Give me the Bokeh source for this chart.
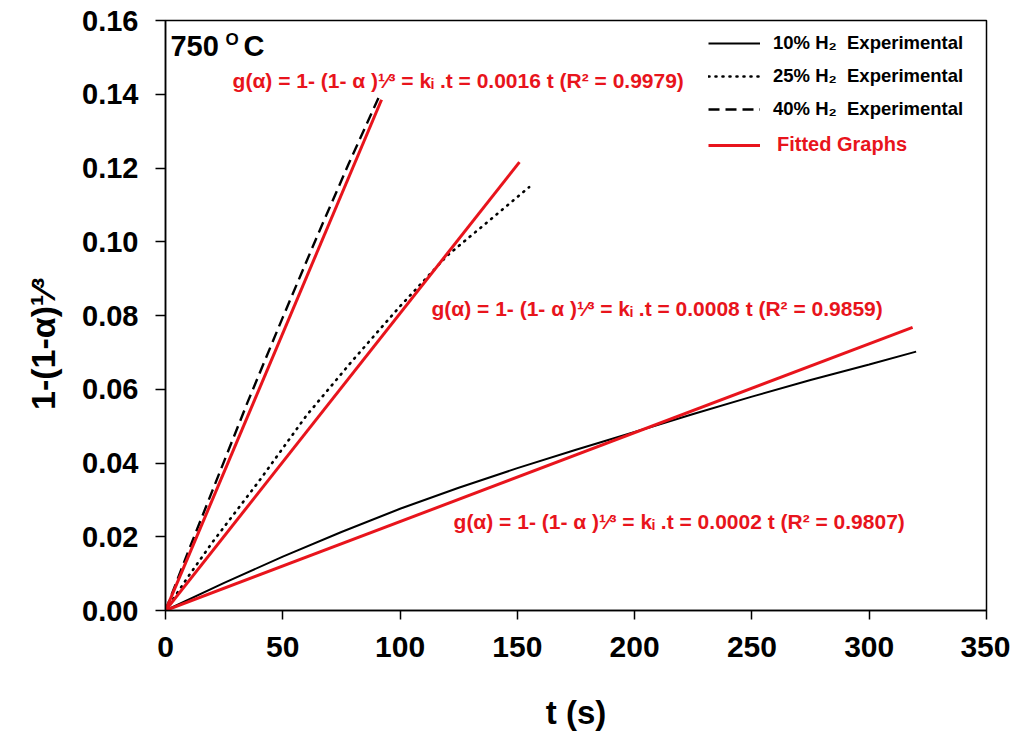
from bokeh.plotting import figure
from bokeh.models import Legend, LegendItem, Label, FixedTicker, NumeralTickFormatter
from bokeh.embed import file_html
from bokeh.resources import INLINE

# ---- data ----
t_10 = [0, 25, 50, 75, 100, 125, 150, 175, 200, 225, 250, 275, 300, 320]
y_10 = [0, 0.0075, 0.0146, 0.0213, 0.0276, 0.0333, 0.0386, 0.0436, 0.0484, 0.0533, 0.0580, 0.0625, 0.0667, 0.0702]

t_25 = [0, 10, 20, 40, 60, 80, 100, 120, 140, 155]
y_25 = [0, 0.0095, 0.0185, 0.0352, 0.0528, 0.0680, 0.0825, 0.0962, 0.1068, 0.1148]

t_40 = [0, 10, 20, 35, 50, 65, 78, 90.8]
y_40 = [0, 0.0165, 0.0325, 0.0565, 0.0795, 0.1020, 0.1210, 0.1390]

t_fit10 = [0, 318.5]
y_fit10 = [0, 0.0768]
t_fit25 = [0, 150.9]
y_fit25 = [0, 0.1216]
t_fit40 = [0, 92.1]
y_fit40 = [0, 0.1385]

x_ticks = [0, 50, 100, 150, 200, 250, 300, 350]
y_ticks = [0, 0.02, 0.04, 0.06, 0.08, 0.10, 0.12, 0.14, 0.16]

eq_texts = [
    "g(α) = 1- (1- α )¹⁄³ = kᵢ .t  = 0.0016 t (R² = 0.9979)",
    "g(α) = 1- (1- α )¹⁄³ = kᵢ .t  = 0.0008 t (R² = 0.9859)",
    "g(α) = 1- (1- α )¹⁄³ = kᵢ .t  = 0.0002 t (R² = 0.9807)",
]
eq_pos = [(28.6, 0.1437), (113.4, 0.0819), (122.8, 0.0241)]

legend_labels = ["10% H₂  Experimental", "25% H₂  Experimental", "40% H₂  Experimental"]
fit_label = "Fitted Graphs"

RED = "#e8141c"
FONT = "Liberation Sans"

p = figure(width=1010, height=734, x_range=(0, 350), y_range=(0, 0.16),
           output_backend="svg", toolbar_location=None,
           min_border_left=165, min_border_right=24, min_border_top=20, min_border_bottom=124)
p.xgrid.visible = False
p.ygrid.visible = False
p.outline_line_color = "black"
p.outline_line_width = 1.5
p.background_fill_color = "white"
p.border_fill_color = "white"

r10 = p.line(t_10, y_10, line_color="black", line_width=2)
r25 = p.line(t_25, y_25, line_color="black", line_width=2.6, line_dash="1 6", line_cap="round")
r40 = p.line(t_40, y_40, line_color="black", line_width=2.4, line_dash="11 6")
f10 = p.line(t_fit10, y_fit10, line_color=RED, line_width=3)
f25 = p.line(t_fit25, y_fit25, line_color=RED, line_width=3)
f40 = p.line(t_fit40, y_fit40, line_color=RED, line_width=3)

# axes
for ax in (p.xaxis[0], p.yaxis[0]):
    ax.axis_line_width = 1.5
    ax.major_tick_line_width = 1.5
    ax.major_tick_in = 0
    ax.minor_tick_in = 0
    ax.minor_tick_out = 0
    ax.major_label_text_font = FONT
    ax.major_label_text_font_style = "bold"
    ax.major_label_text_color = "black"
    ax.axis_label_text_font = FONT
    ax.axis_label_text_font_style = "bold"
    ax.axis_label_text_color = "black"

p.xaxis.ticker = FixedTicker(ticks=x_ticks)
p.xaxis.major_tick_out = 9
p.xaxis.major_label_text_font_size = "30px"
p.xaxis.major_label_standoff = 17
p.xaxis.axis_label = "t (s)"
p.xaxis.axis_label_text_font_size = "33px"
p.xaxis.axis_label_standoff = 34

p.yaxis.ticker = FixedTicker(ticks=y_ticks)
p.yaxis.formatter = NumeralTickFormatter(format="0.00")
p.yaxis.major_tick_out = 10
p.yaxis.major_label_text_font_size = "29px"
p.yaxis.major_label_standoff = 17
p.yaxis.axis_label = "1-(1-α)¹⁄³" + "\u00a0" * 6
p.yaxis.axis_label_text_font_size = "34px"
p.yaxis.axis_label_standoff = 17

# legends
leg1 = Legend(items=[LegendItem(label=legend_labels[0], renderers=[r10]),
                     LegendItem(label=legend_labels[1], renderers=[r25]),
                     LegendItem(label=legend_labels[2], renderers=[r40])],
              location=(543, 490))
leg2 = Legend(items=[LegendItem(label=fit_label, renderers=[f10])], location=(543, 454))
for lg in (leg1, leg2):
    lg.border_line_color = None
    lg.background_fill_alpha = 0
    lg.padding = 0
    lg.margin = 0
    lg.spacing = 11
    lg.glyph_width = 52
    lg.glyph_height = 20
    lg.label_height = 20
    lg.label_standoff = 13
    lg.label_text_font = FONT
    lg.label_text_font_style = "bold"
    lg.label_text_font_size = "18.5px"
    lg.label_text_color = "black"
leg2.label_text_color = RED
leg2.label_text_font_size = "20px"
leg2.label_standoff = 17
p.add_layout(leg1)
p.add_layout(leg2)

# temperature label
p.add_layout(Label(x=2.1, y=0.1532, text="750", text_font=FONT, text_font_style="bold",
                   text_font_size="29px", text_baseline="middle", text_color="black"))
p.add_layout(Label(x=2.1, y=0.1532, x_offset=55, y_offset=6, text="O", text_font=FONT,
                   text_font_style="bold", text_font_size="17px", text_baseline="middle",
                   text_color="black"))
p.add_layout(Label(x=2.1, y=0.1532, x_offset=73, text="C", text_font=FONT, text_font_style="bold",
                   text_font_size="29px", text_baseline="middle", text_color="black"))

for txt, (xx, yy) in zip(eq_texts, eq_pos):
    p.add_layout(Label(x=xx, y=yy, text=txt, text_font=FONT, text_font_style="bold",
                       text_font_size="21px", text_baseline="middle", text_color=RED))

open("out.html", "w").write(file_html(p, INLINE))
